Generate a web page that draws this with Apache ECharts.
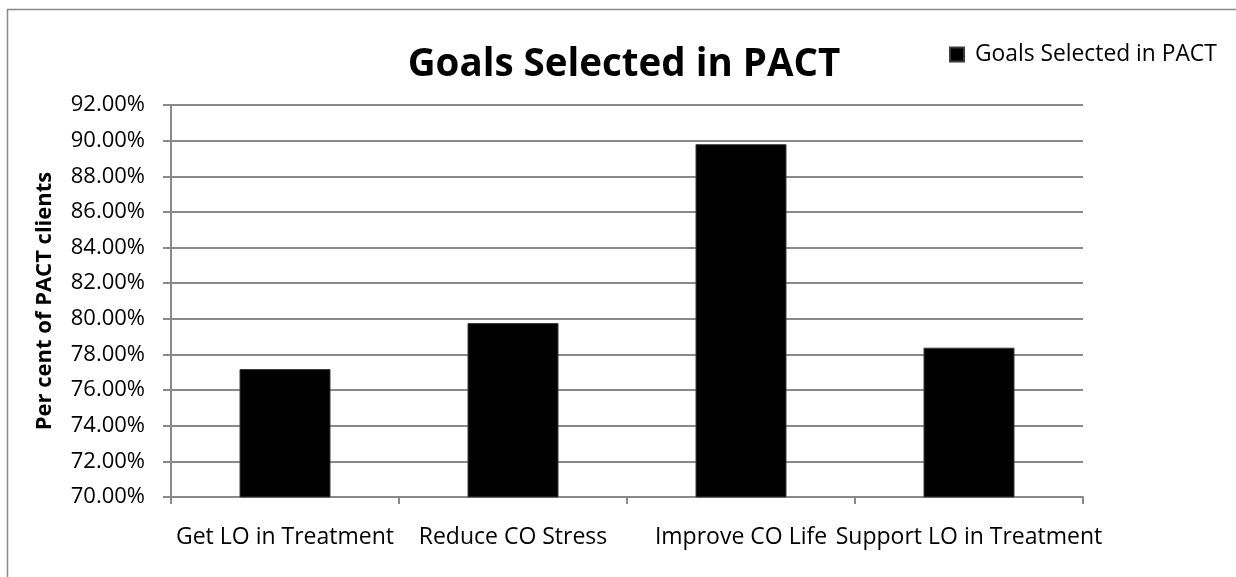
<!DOCTYPE html>
<html>
<head>
<meta charset="utf-8">
<script src="https://cdn.jsdelivr.net/npm/echarts@6/dist/echarts.min.js"></script>
<style>
  html, body { margin: 0; padding: 0; background: #fff; }
  #chart { width: 1236px; height: 577px; }
</style>
</head>
<body>
<div id="chart"></div>
<script>
const categories = ['Get LO in Treatment', 'Reduce CO Stress', 'Improve CO Life', 'Support LO in Treatment']
const goalValues = [77.18, 79.76, 89.8, 78.38]
const seriesName = 'Goals Selected in PACT'
const yMin = 70, yMax = 92, yStep = 2

const font = '"Open Sans", "Noto Sans", sans-serif'
const axisGray = '#898989'

const chart = echarts.init(document.getElementById('chart'))
chart.setOption({
  animation: false,
  backgroundColor: '#fff',
  textStyle: { fontFamily: font },
  graphic: [
    {
      type: 'rect',
      shape: { x: 7.5, y: 9.5, width: 1240, height: 600 },
      style: { fill: 'none', stroke: axisGray, lineWidth: 1.5 },
      silent: true
    }
  ],
  title: {
    text: 'Goals Selected in PACT',
    left: 619,
    textAlign: 'center',
    top: 41,
    textStyle: { fontFamily: font, fontSize: 38.5, fontWeight: 'bold', color: '#000' }
  },
  legend: {
    data: [seriesName],
    left: 949,
    top: 43,
    padding: 0,
    icon: 'rect',
    itemWidth: 14,
    itemHeight: 14,
    textStyle: { fontFamily: font, fontSize: 22.8, color: '#000', padding: [0, 0, 0, 6] }
  },
  grid: { left: 171, right: 153, top: 105, bottom: 80 },
  xAxis: {
    type: 'category',
    data: categories,
    axisLine: { lineStyle: { color: axisGray, width: 2 } },
    axisTick: { show: true, length: 7, alignWithLabel: false, lineStyle: { color: axisGray, width: 2 } },
    axisLabel: { interval: 0, hideOverlap: false, margin: 29, fontFamily: font, fontSize: 23, color: '#000' }
  },
  yAxis: {
    type: 'value',
    min: yMin,
    max: yMax,
    interval: yStep,
    name: 'Per cent of PACT clients',
    nameLocation: 'middle',
    nameGap: 115,
    nameTextStyle: { fontFamily: font, fontSize: 22, fontWeight: 'bold', color: '#000' },
    axisLine: { show: true, lineStyle: { color: axisGray, width: 2 } },
    axisTick: { show: true, length: 8, lineStyle: { color: axisGray, width: 2 } },
    axisLabel: {
      margin: 26,
      fontFamily: font,
      fontSize: 22,
      color: '#000',
      formatter: v => v.toFixed(2) + '%'
    },
    splitLine: { lineStyle: { color: axisGray, width: 2 } }
  },
  series: [
    {
      type: 'bar',
      name: seriesName,
      data: goalValues,
      barWidth: 91,
      itemStyle: { color: '#000', borderColor: '#3a3a3a', borderWidth: 1 }
    }
  ]
})
</script>
</body>
</html>
